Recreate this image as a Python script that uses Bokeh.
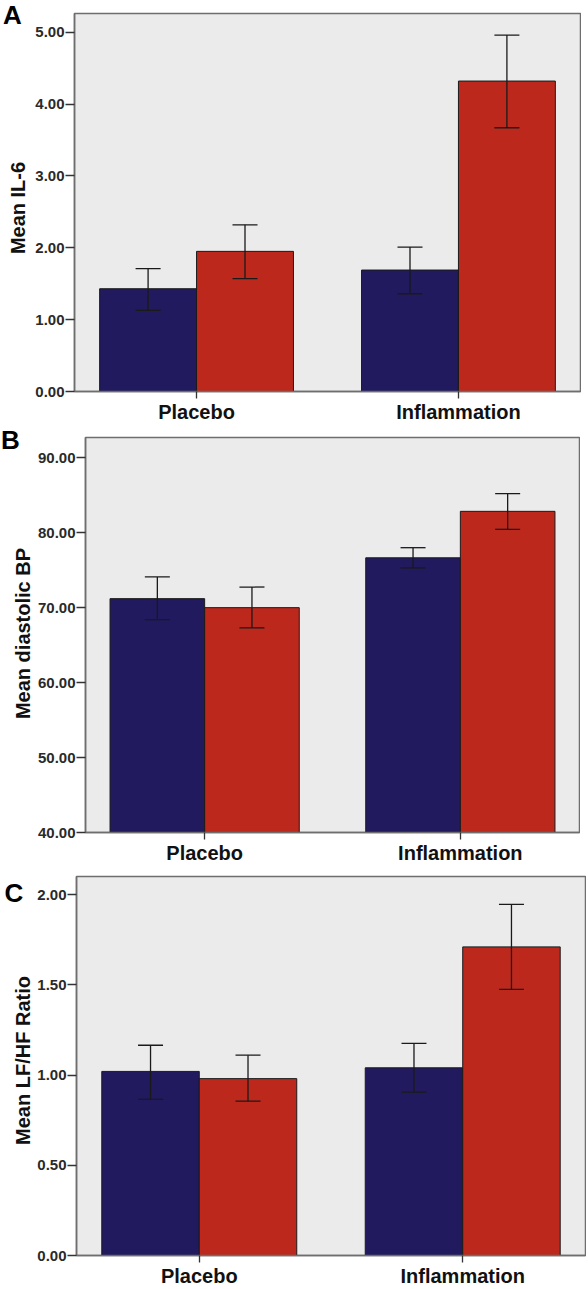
import math
from bokeh.plotting import figure
from bokeh.models import (ColumnDataSource, FactorRange, Range1d, FixedTicker,
                          NumeralTickFormatter, Whisker, TeeHead)
from bokeh.core.properties import value
from bokeh.transform import dodge
from bokeh.layouts import column, row
from bokeh.embed import file_html
from bokeh.resources import INLINE

groups = ["Placebo", "Inflammation"]
panel_letters = ["A", "B", "C"]
y_labels = ["Mean IL-6", "Mean diastolic BP", "Mean LF/HF Ratio"]

# Panel A: Mean IL-6
il6_blue = [1.43, 1.69]
il6_blue_lo = [1.13, 1.36]
il6_blue_hi = [1.71, 2.01]
il6_red = [1.95, 4.32]
il6_red_lo = [1.57, 3.67]
il6_red_hi = [2.32, 4.96]
il6_ticks = [0, 1, 2, 3, 4, 5]

# Panel B: Mean diastolic BP
dbp_blue = [71.2, 76.65]
dbp_blue_lo = [68.4, 75.3]
dbp_blue_hi = [74.1, 78.0]
dbp_red = [70.0, 82.85]
dbp_red_lo = [67.3, 80.45]
dbp_red_hi = [72.75, 85.2]
dbp_ticks = [40, 50, 60, 70, 80, 90]

# Panel C: Mean LF/HF Ratio
lfhf_blue = [1.02, 1.04]
lfhf_blue_lo = [0.865, 0.905]
lfhf_blue_hi = [1.165, 1.175]
lfhf_red = [0.98, 1.71]
lfhf_red_lo = [0.855, 1.475]
lfhf_red_hi = [1.11, 1.945]
lfhf_ticks = [0, 0.5, 1.0, 1.5, 2.0]

BLUE = "#211a5e"
RED = "#bd281d"
BG = "#ebebeb"
FRAME = "#6e6e6e"
INK = "#1a1a1a"
FONT = "Liberation Sans"


def no_align(p):
    try:
        p.frame_align = False
    except Exception:
        pass


def side(letter, ylabel, width, height, lx, lmid, yx, ymid):
    """Narrow strip left of the axis holding the panel letter and y title."""
    s = figure(width=width, height=height, x_range=Range1d(0, width),
               y_range=Range1d(0, height), x_axis_type=None, y_axis_type=None,
               output_backend="svg", toolbar_location=None,
               min_border=0, min_border_left=0, min_border_right=0,
               min_border_top=0, min_border_bottom=0)
    no_align(s)
    s.outline_line_color = None
    s.background_fill_color = "white"
    s.border_fill_color = "white"
    s.xgrid.visible = False
    s.ygrid.visible = False
    s.text(x=[lx], y=[height - lmid], text=[letter],
           text_font=value(FONT), text_font_style="bold",
           text_font_size="26px", text_color="#000000",
           text_align="left", text_baseline="middle")
    s.text(x=[yx], y=[height - ymid], text=[ylabel], angle=math.pi / 2,
           text_font=value(FONT), text_font_style="bold",
           text_font_size="20px", text_color="#111111",
           text_align="center", text_baseline="middle")
    return s


def panel(blue, blo, bhi, red, rlo, rhi, ymin, ymax, ticks,
          width, height, bl, bt, bb):
    src = ColumnDataSource(dict(g=groups, blue=blue, blo=blo, bhi=bhi,
                                red=red, rlo=rlo, rhi=rhi))
    p = figure(x_range=FactorRange(*groups, range_padding=-0.034),
               y_range=Range1d(ymin, ymax), width=width, height=height,
               output_backend="svg", toolbar_location=None,
               min_border_left=bl, min_border_right=1, min_border_top=bt,
               min_border_bottom=bb)
    no_align(p)
    p.background_fill_color = BG
    p.border_fill_color = "white"
    p.outline_line_color = FRAME
    p.outline_line_width = 1.5
    p.xgrid.visible = False
    p.ygrid.visible = False

    xb = dodge("g", -0.185, range=p.x_range)
    xr = dodge("g", 0.185, range=p.x_range)
    p.vbar(x=xb, top="blue", bottom=ymin, width=0.37, source=src,
           fill_color=BLUE, line_color=INK, line_width=1)
    p.vbar(x=xr, top="red", bottom=ymin, width=0.37, source=src,
           fill_color=RED, line_color=INK, line_width=1)
    for base, lo, hi in ((xb, "blo", "bhi"), (xr, "rlo", "rhi")):
        w = Whisker(base=base, lower=lo, upper=hi, source=src,
                    line_color=INK, line_width=1.3, level="overlay",
                    upper_head=TeeHead(size=25, line_color=INK, line_width=1.3),
                    lower_head=TeeHead(size=25, line_color=INK, line_width=1.3))
        p.add_layout(w)

    ya = p.yaxis[0]
    ya.ticker = FixedTicker(ticks=ticks)
    ya.formatter = NumeralTickFormatter(format="0.00")
    ya.minor_tick_line_color = None
    ya.major_tick_in = 0
    ya.major_tick_out = 9
    ya.major_label_standoff = 1
    ya.major_label_text_font = FONT
    ya.major_label_text_font_style = "bold"
    ya.major_label_text_font_size = "15px"
    ya.major_label_text_color = "#2a2a2a"

    xa = p.xaxis[0]
    xa.major_tick_in = 0
    xa.major_tick_out = 7
    xa.major_label_standoff = 2
    xa.major_label_text_font = FONT
    xa.major_label_text_font_style = "bold"
    xa.major_label_text_font_size = "20px"
    xa.major_label_text_color = "#111111"

    for ax in (xa, ya):
        ax.axis_line_color = FRAME
        ax.axis_line_width = 1.5
        ax.major_tick_line_color = "#333333"
        ax.major_tick_line_width = 1.3
    return p


# Panel A (rows 0-425; frame left 72, right 580, top 13, bottom 393)
sa = side(panel_letters[0], y_labels[0], 32, 425, 2.5, 14.6, 17.5, 207.5)
pa = panel(il6_blue, il6_blue_lo, il6_blue_hi, il6_red, il6_red_lo, il6_red_hi,
           0, 5.26, il6_ticks, 581 - 32, 425, 72 - 32, 13, 32)
# Panel B (rows 425-866; frame left 82, right 579, top 437, bottom 833)
sb = side(panel_letters[1], y_labels[1], 34, 441, 0.5, 14.6, 22, 208)
pb = panel(dbp_blue, dbp_blue_lo, dbp_blue_hi, dbp_red, dbp_red_lo, dbp_red_hi,
           40, 92.7, dbp_ticks, 580 - 34, 441, 82 - 34, 12, 33)
# Panel C (rows 866-1289; frame left 75, right 585, top 876, bottom 1257)
sc = side(panel_letters[2], y_labels[2], 34, 423, 4, 26.7, 22.5, 194)
pc = panel(lfhf_blue, lfhf_blue_lo, lfhf_blue_hi, lfhf_red, lfhf_red_lo, lfhf_red_hi,
           0, 2.10, lfhf_ticks, 586 - 34, 423, 75 - 34, 10, 32)

ra = row(sa, pa, spacing=0)
rb = row(sb, pb, spacing=0)
rc = row(sc, pc, spacing=0)
layout = column(ra, rb, rc, spacing=0)
open("out.html", "w").write(file_html(layout, INLINE))
